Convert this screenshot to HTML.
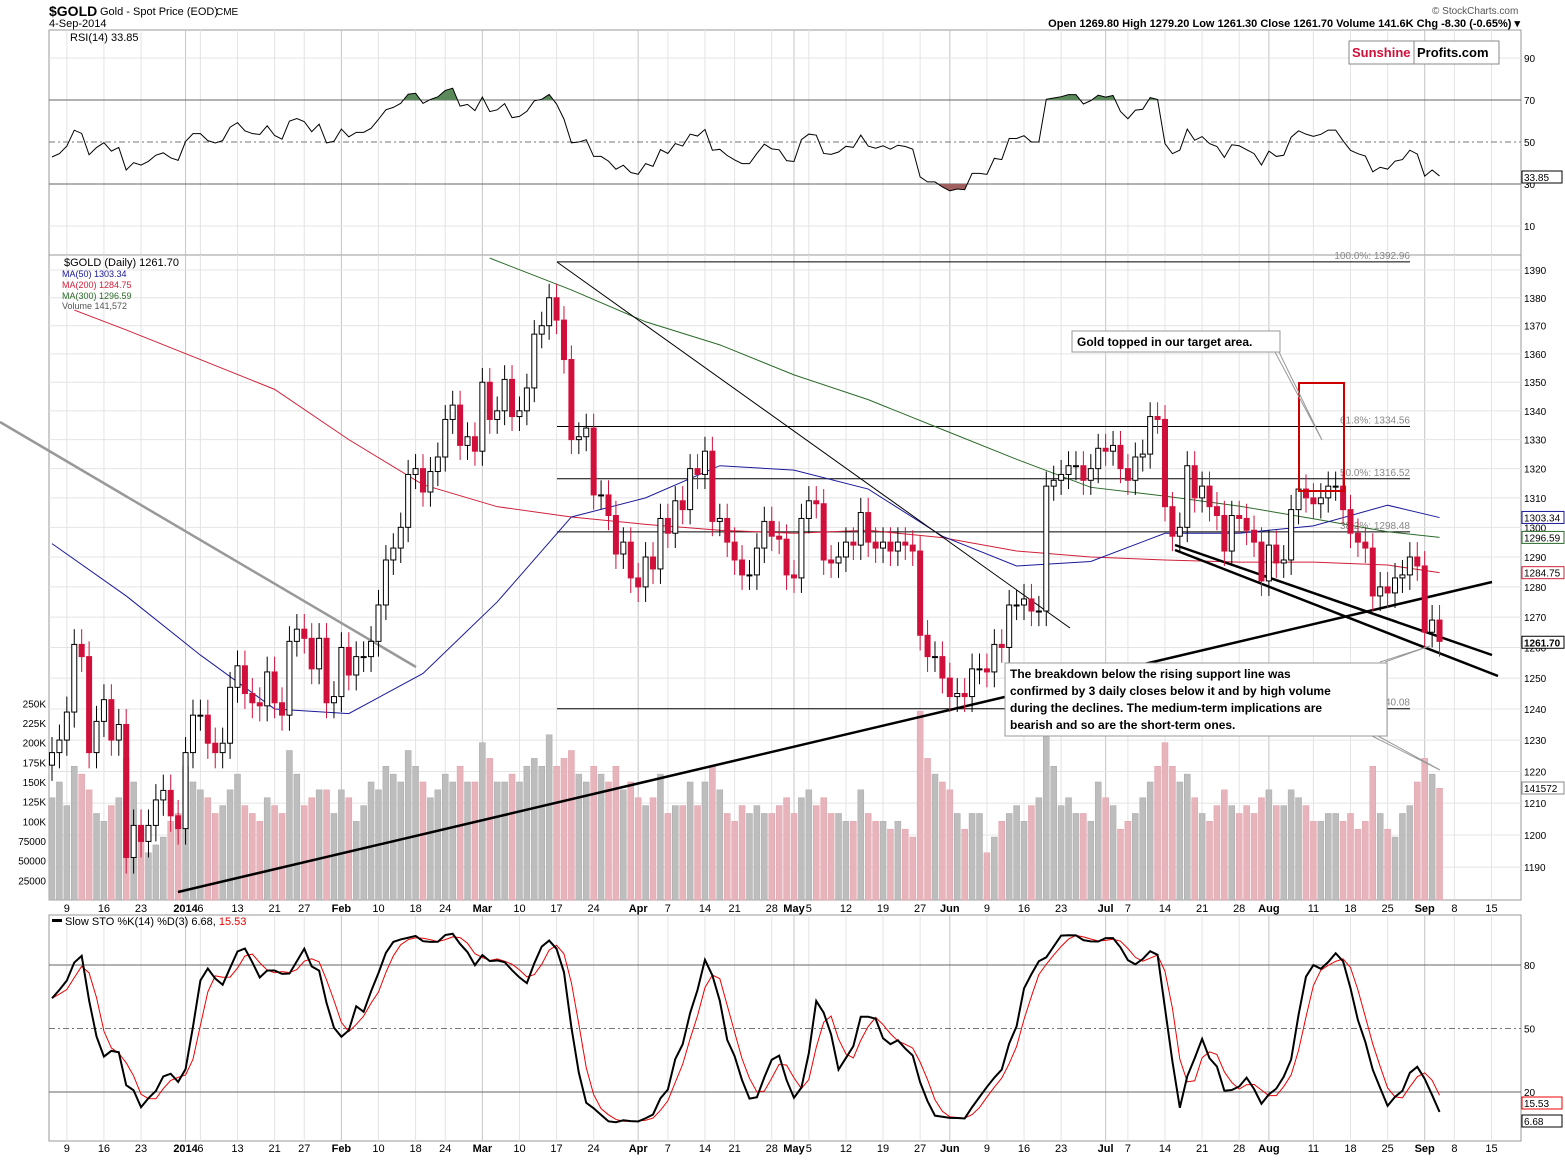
<!DOCTYPE html>
<html><head><meta charset="utf-8"><style>
body{margin:0;background:#fff;font-family:"Liberation Sans",sans-serif}
svg text{font-family:"Liberation Sans",sans-serif}
</style></head><body>
<svg id="c" width="1565" height="1157" xmlns="http://www.w3.org/2000/svg"></svg>
<script>
const closes=[1226,1230,1239,1261,1257,1226,1236,1243,1230,1235,1193,1203,1198,1203,1211,1214,1206,1202,
1226,1238,1238,1229,1226,1229,1247,1254,1245,1242,1241,1252,1242,1238,1262,1266,1263,1253,1263,1242,1244,
1260,1251,1257,1257,1262,1274,1289,1293,1300,1318,1320,1312,1319,1324,1337,1342,1328,1331,1326,
1350,1337,1340,1351,1338,1340,1348,1367,1370,1380,1372,1358,1330,1331,1334,1311,1311,1304,1291,1295,1283,
1280,1290,1286,1303,1298,1309,1306,1320,1318,1326,1302,1303,1295,1289,1284,1284,1293,1302,1297,1296,1284,
1283,1303,1309,1308,1289,1288,1290,1295,1294,1305,1295,1293,1295,1292,1295,1294,1292,1264,1257,1257,1250,
1244,1245,1244,1253,1253,1252,1261,1260,1274,1274,1276,1272,1272,1314,1316,1318,1321,1321,1316,1320,1327,
1326,1328,1320,1316,1324,1325,1338,1337,1307,1297,1300,1321,1310,1314,1307,1304,1292,1304,1303,1299,1295,1282,
1294,1288,1289,1306,1313,1310,1308,1310,1314,1314,1306,1298,1295,1293,1277,1280,1278,1283,1284,1290,1287,
1265,1269,1262];
const volumesK=[130,150,120,170,160,140,110,100,120,130,180,150,90,60,70,80,100,110,
170,150,140,130,110,120,140,160,120,110,100,130,120,110,190,160,120,130,140,140,110,
140,130,100,120,150,140,170,160,150,190,170,150,130,140,160,150,170,150,150,
200,180,150,150,160,150,170,180,170,210,170,180,190,160,150,170,160,150,170,140,150,
130,120,130,160,110,120,120,150,120,150,170,140,110,100,120,110,120,110,110,120,130,
110,130,140,120,130,110,110,100,100,140,110,100,100,90,100,90,80,240,180,160,150,
140,110,90,110,110,60,80,100,110,120,100,120,130,210,170,120,130,110,110,100,150,
130,120,90,100,110,130,150,170,200,170,150,160,130,110,100,120,140,120,110,120,110,130,
140,120,120,140,130,120,100,100,110,110,100,110,90,100,170,110,90,80,110,120,150,
180,160,142];
const maIdx=[0,10,20,30,40,50,60,70,80,90,100,110,120,130,140,150,160,170,180,187];
const ma50=[1294.5,1277,1257.5,1240,1238.5,1251.5,1275,1303.5,1310,1321,1319.5,1313,1297,1287,1288.5,1298,1298,1300.5,1307.5,1303.3];
const ma200Idx=[3,10,20,30,40,50,60,70,80,90,100,110,120,130,140,150,160,170,180,187];
const ma200=[1375.6,1368.5,1358,1347.5,1330,1314.5,1307,1303.5,1301,1299,1298,1299,1296.5,1292,1290,1289,1288.3,1288.3,1287.3,1284.75];
const ma300Idx=[59,70,80,90,100,110,120,130,140,150,160,170,180,187];
const ma300=[1394.3,1382.8,1371.4,1363.2,1352.6,1343.9,1333.5,1323.2,1313.6,1310.6,1307.2,1302.9,1298.5,1296.6];
const priceTicks=[1190,1200,1210,1220,1230,1240,1250,1260,1270,1280,1290,1300,1310,1320,1330,1340,1350,1360,1370,1380,1390];
const volTicks=[25000,50000,75000,100000,125000,150000,175000,200000,225000,250000];
const volTickLabels=["25000","50000","75000","100K","125K","150K","175K","200K","225K","250K"];
const fibVals=[1392.96,1334.56,1316.52,1298.48,1240.08];
const fibLabels=["100.0%: 1392.96","61.8%: 1334.56","50.0%: 1316.52","38.2%: 1298.48","1240.08"];
const dateIdx=[2,7,12,18,20,25,30,34,39,44,49,53,58,63,68,73,79,83,88,92,97,100,102,107,112,117,121,126,131,136,142,145,150,155,160,164,170,175,180,185,189,194];
const dateLabels=["9","16","23","2014","6","13","21","27","Feb","10","18","24","Mar","10","17","24","Apr","7","14","21","28","May","5","12","19","27","Jun","9","16","23","Jul","7","14","21","28","Aug","11","18","25","Sep","8","15"];
const monthSet=["2014","Feb","Mar","Apr","May","Jun","Jul","Aug","Sep"];

const NS="http://www.w3.org/2000/svg",svg=document.getElementById('c');
function el(t,a,p){const e=document.createElementNS(NS,t);for(const k in a)e.setAttribute(k,a[k]);(p||svg).appendChild(e);return e;}
function tx(x,y,s,a,p){const e=el('text',Object.assign({x:x,y:y,'font-size':11,fill:'#000'},a||{}),p);e.textContent=s;return e;}
const L=49,R=1521;
const X=i=>52+i*7.42;
const Yp=p=>270+(Math.log(1390)-Math.log(p))*3844;
const Yv=v=>900-v/25000*19.67;
const Yr=r=>58+(90-r)*2.1;
const Ys=s=>965+(80-s)*2.117;
const N=closes.length;
const opens=closes.map((c,i)=>i?closes[i-1]:c-4);
const highs=closes.map((c,i)=>Math.max(c,opens[i])+5);
const lows=closes.map((c,i)=>Math.min(c,opens[i])-5);

let g=el('g',{});
tx(49,16,'$GOLD',{'font-size':14,'font-weight':'bold'},g);
tx(100,15,'Gold - Spot Price (EOD)',{'font-size':11},g);tx(216,15,'CME',{'font-size':10},g);
tx(49,27,'4-Sep-2014',{'font-size':11},g);
tx(1432,14,'© StockCharts.com',{'font-size':10,fill:'#555'},g);
tx(1520,27,'Open 1269.80  High 1279.20  Low 1261.30  Close 1261.70  Volume 141.6K  Chg -8.30 (-0.65%) ▾',{'font-size':11,'text-anchor':'end','font-weight':'bold'},g);

function panel(name,y0,y1){const r=el('rect',{x:L,y:y0,width:R-L,height:y1-y0,fill:'#fff',stroke:'#999'});
 dateIdx.forEach((d,k)=>{const x=X(d);el('line',{x1:x,x2:x,y1:y0,y2:y1,stroke:monthSet.includes(dateLabels[k])?'#c4c4c4':'#e4e4e4'});});}
function dateAxis(y,name){const gg=el('g',{});
 dateIdx.forEach((d,k)=>tx(X(d),y,dateLabels[k],{'text-anchor':'middle','font-size':11,'font-weight':monthSet.includes(dateLabels[k])?'bold':'normal'},gg));}

panel('rsi-panel',30,255);
[90,10].forEach(v=>el('line',{x1:L,x2:R,y1:Yr(v),y2:Yr(v),stroke:'#e4e4e4'}));
el('line',{x1:L,x2:R,y1:Yr(70),y2:Yr(70),stroke:'#666'});el('line',{x1:L,x2:R,y1:Yr(30),y2:Yr(30),stroke:'#666'});
el('line',{x1:L,x2:R,y1:Yr(50),y2:Yr(50),stroke:'#777','stroke-dasharray':'6,3,2,3'});
[90,70,50,30,10].forEach(v=>tx(1524,Yr(v)+4,String(v),{'font-size':10}));
const rsi=[];let ag=4.5,al=6;
for(let i=0;i<N;i++){if(i===0){rsi.push(100-100/(1+ag/al));continue;}const ch=closes[i]-closes[i-1];const gn=Math.max(ch,0),ls=Math.max(-ch,0);
 ag=(ag*13+gn)/14;al=(al*13+ls)/14;rsi.push(al===0?70:100-100/(1+ag/al));}
const rpts=rsi.map((v,i)=>X(i)+','+Yr(v)).join(' ');
const defs=el('defs',{});
const cpa=el('clipPath',{id:'ca'},defs);el('rect',{x:L,y:30,width:R-L,height:Yr(70)-30},cpa);
const cpb=el('clipPath',{id:'cb'},defs);el('rect',{x:L,y:Yr(30),width:R-L,height:255-Yr(30)},cpb);
el('polygon',{points:X(0)+','+Yr(70)+' '+rpts+' '+X(N-1)+','+Yr(70),fill:'#5a8a5a','clip-path':'url(#ca)'});
el('polygon',{points:X(0)+','+Yr(30)+' '+rpts+' '+X(N-1)+','+Yr(30),fill:'#a06060','clip-path':'url(#cb)'});
const rl=el('polyline',{points:rpts,fill:'none',stroke:'#000','stroke-width':1});


tx(70,41,'RSI(14) 33.85',{'font-size':11});
el('rect',{x:1522,y:171,width:40,height:12,fill:'#fff',stroke:'#000'});tx(1524,181,'33.85',{'font-size':10});
const lg=el('g',{});
el('rect',{x:1349,y:41,width:150,height:23,fill:'#fff',stroke:'#888'},lg);el('line',{x1:1414,x2:1414,y1:41,y2:64,stroke:'#888'},lg);
tx(1352,57,'Sunshine',{'font-size':13,'font-weight':'bold',fill:'#d0103a'},lg);tx(1417,57,'Profits.com',{'font-size':13,'font-weight':'bold'},lg);

panel('price-panel',255,900);
priceTicks.forEach(p=>{el('line',{x1:L,x2:R,y1:Yp(p),y2:Yp(p),stroke:'#e4e4e4'});tx(1524,Yp(p)+4,String(p),{'font-size':10});});
volTicks.forEach((v,k)=>tx(46,Yv(v)+4,volTickLabels[k],{'font-size':10,'text-anchor':'end'}));
for(let i=0;i<N;i++){const up=closes[i]>=opens[i];const b=el('rect',{x:X(i)-3,y:Yv(volumesK[i]*1000),width:6,height:900-Yv(volumesK[i]*1000),fill:up?'#bdbdbd':'#e8b4bc',stroke:up?'#aaa':'#dfa0aa','stroke-width':0.5});
 
 }
fibVals.forEach((f,k)=>{el('line',{x1:557,x2:1410,y1:Yp(f),y2:Yp(f),stroke:'#000'});tx(1410,Yp(f)-3,fibLabels[k],{'font-size':10,fill:'#888','text-anchor':'end'});});
function maLine(idx,vals,col,name){const l=el('polyline',{points:idx.map((d,k)=>X(d)+','+Yp(vals[k])).join(' '),fill:'none',stroke:col,'stroke-width':1});
 
 }
maLine(ma300Idx,ma300,'#2a6a2a','ma300-line');maLine(ma200Idx,ma200,'#d0203a','ma200-line');maLine(maIdx,ma50,'#1a1a9a','ma50-line');
[[0,422,416,667,'#999',2.5],[557,262,1070,628,'#000',1],[178,892,1492,582,'#000',2.5],[1175,545,1492,655,'#000',2.5],[1175,550,1498,676,'#000',2.5]].forEach(t=>{const l=el('line',{x1:t[0],y1:t[1],x2:t[2],y2:t[3],stroke:t[4],'stroke-width':t[5]});
 
 });
for(let i=0;i<N;i++){const up=closes[i]>=opens[i],x=X(i);
 el('line',{x1:x,x2:x,y1:Yp(highs[i]),y2:Yp(lows[i]),stroke:up?'#000':'#d0103a'});
 const top=Yp(Math.max(opens[i],closes[i])),bot=Yp(Math.min(opens[i],closes[i]));
 const c=el('rect',{x:x-2.5,y:top,width:5,height:Math.max(bot-top,1),fill:up?'#fff':'#d0103a',stroke:up?'#000':'#d0103a'});
 
 }
const tb=el('rect',{x:1299,y:383,width:45,height:108,fill:'none',stroke:'#c00','stroke-width':2});


const mg=el('g',{});
tx(64,266,'$GOLD (Daily) 1261.70',{'font-size':11},mg);
tx(62,277,'MA(50) 1303.34',{'font-size':9,fill:'#1a1a9a'},mg);tx(62,288,'MA(200) 1284.75',{'font-size':9,fill:'#d0203a'},mg);
tx(62,299,'MA(300) 1296.59',{'font-size':9,fill:'#2a6a2a'},mg);tx(62,309,'Volume 141,572',{'font-size':9,fill:'#555'},mg);
[['1303.34',1303.34,'#1a1a9a',0],['1296.59',1296.59,'#2a6a2a',0],['1284.75',1284.75,'#d0203a',0],['1261.70',1261.7,'#000',1]].forEach(t=>{
 const y=Yp(t[1]);el('rect',{x:1522,y:y-6,width:42,height:12,fill:'#fff',stroke:t[2]});tx(1524,y+4,t[0],{'font-size':10,'font-weight':t[3]?'bold':'normal'});});
el('rect',{x:1522,y:782,width:42,height:12,fill:'#fff',stroke:'#888'});tx(1524,792,'141572',{'font-size':10});
const a1=el('g',{});
el('polyline',{points:'1275,352 1322,440 1279,352',fill:'none',stroke:'#999'},a1);
el('rect',{x:1072,y:331,width:208,height:21,fill:'#fff',stroke:'#999'},a1);tx(1077,346,'Gold topped in our target area.',{'font-size':12,'font-weight':'bold'},a1);
const a2=el('g',{});
el('polyline',{points:'1380,662 1430,646 1385,662',fill:'none',stroke:'#999'},a2);
el('polyline',{points:'1372,736 1440,770 1378,736',fill:'none',stroke:'#999'},a2);
el('rect',{x:1005,y:663,width:382,height:73,fill:'#fff',stroke:'#999'},a2);
['The breakdown below the rising support line was','confirmed by 3 daily closes below it and by high volume','during the declines. The medium-term implications are','bearish and so are the short-term ones.'].forEach((s,k)=>tx(1010,678+k*17,s,{'font-size':12,'font-weight':'bold'},a2));
dateAxis(912,'date-axis-main');

panel('stochastic-panel',915,1141);
[80,20].forEach(v=>el('line',{x1:L,x2:R,y1:Ys(v),y2:Ys(v),stroke:'#666'}));
el('line',{x1:L,x2:R,y1:Ys(50),y2:Ys(50),stroke:'#777','stroke-dasharray':'6,3,2,3'});
[80,50,20].forEach(v=>tx(1524,Ys(v)+4,String(v),{'font-size':10}));
const fk=[];for(let i=0;i<N;i++){const s=Math.max(0,i-13);let hh=-1e9,ll=1e9;for(let j=s;j<=i;j++){hh=Math.max(hh,highs[j]);ll=Math.min(ll,lows[j]);}fk.push(hh>ll?(closes[i]-ll)/(hh-ll)*100:50);}
const sma=(a,n)=>a.map((v,i)=>{const s=Math.max(0,i-n+1);let t=0;for(let j=s;j<=i;j++)t+=a[j];return t/(i-s+1);});
const sk=sma(fk,3),sd=sma(sk,3);
const dl=el('polyline',{points:sd.map((v,i)=>X(i)+','+Ys(v)).join(' '),fill:'none',stroke:'#e00','stroke-width':1});


const kl=el('polyline',{points:sk.map((v,i)=>X(i)+','+Ys(v)).join(' '),fill:'none',stroke:'#000','stroke-width':2});


el('rect',{x:52,y:919,width:10,height:3,fill:'#000'});
const st=tx(65,925,'Slow STO %K(14) %D(3) 6.68, ',{'font-size':11});const ts=document.createElementNS(NS,'tspan');ts.setAttribute('fill','#e00');ts.textContent='15.53';st.appendChild(ts);
el('rect',{x:1522,y:1097,width:40,height:12,fill:'#fff',stroke:'#e00'});tx(1524,1107,'15.53',{'font-size':10});
el('rect',{x:1522,y:1115,width:40,height:12,fill:'#fff',stroke:'#000'});tx(1524,1125,'6.68',{'font-size':10});
dateAxis(1152,'date-axis-stoch');
</script>
</body></html>
